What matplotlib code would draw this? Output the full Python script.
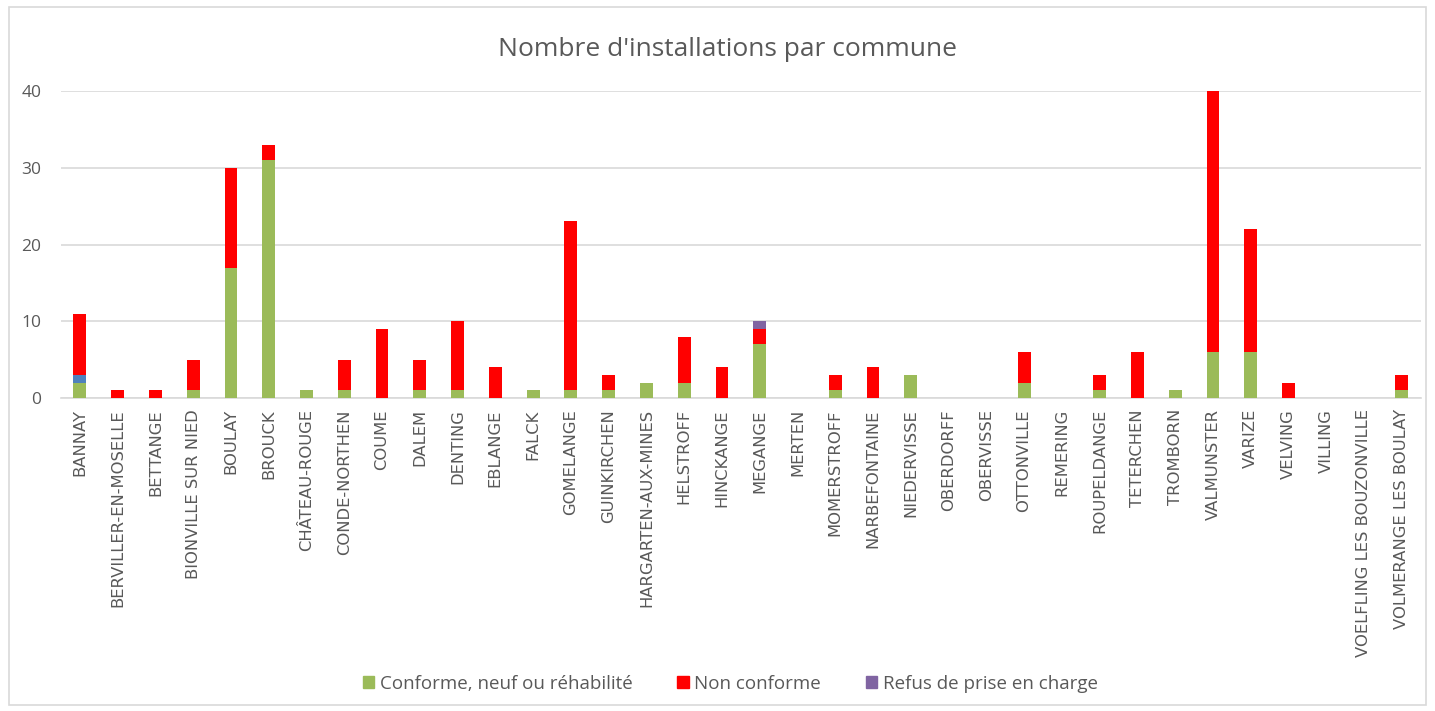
import matplotlib
matplotlib.use("Agg")
import matplotlib.pyplot as plt
import numpy as np
from matplotlib.patches import Rectangle, Patch

communes = ["BANNAY", "BERVILLER-EN-MOSELLE", "BETTANGE", "BIONVILLE SUR NIED", "BOULAY",
            "BROUCK", "CHÂTEAU-ROUGE", "CONDE-NORTHEN", "COUME", "DALEM", "DENTING",
            "EBLANGE", "FALCK", "GOMELANGE", "GUINKIRCHEN", "HARGARTEN-AUX-MINES",
            "HELSTROFF", "HINCKANGE", "MEGANGE", "MERTEN", "MOMERSTROFF", "NARBEFONTAINE",
            "NIEDERVISSE", "OBERDORFF", "OBERVISSE", "OTTONVILLE", "REMERING",
            "ROUPELDANGE", "TETERCHEN", "TROMBORN", "VALMUNSTER", "VARIZE", "VELVING",
            "VILLING", "VOELFLING LES BOUZONVILLE", "VOLMERANGE LES BOULAY"]
conforme = [2, 0, 0, 1, 17, 31, 1, 1, 0, 1, 1, 0, 1, 1, 1, 2, 2, 0, 7, 0, 1, 0, 3, 0, 0,
            2, 0, 1, 0, 1, 6, 6, 0, 0, 0, 1]
autre = [1] + [0] * 35
non_conforme = [8, 1, 1, 4, 13, 2, 0, 4, 9, 4, 9, 4, 0, 22, 2, 0, 6, 4, 2, 0, 2, 4, 0, 0, 0,
                4, 0, 2, 6, 0, 34, 16, 2, 0, 0, 2]
refus = [0] * 18 + [1] + [0] * 17

c_green = "#9BBB59"
c_blue = "#4F81BD"
c_red = "#FF0000"
c_purple = "#8064A2"
txt = "#595959"

plt.rcParams['font.family'] = ['Open Sans', 'DejaVu Sans']

fig = plt.figure(figsize=(14.35, 7.11), dpi=100)
fig.patches.append(Rectangle((0.006, 0.008), 0.988, 0.982, transform=fig.transFigure,
                             fill=False, edgecolor="#D9D9D9", linewidth=1.2))
ax = fig.add_axes([0.0425, 0.4402, 0.9475, 0.4318])

x = np.arange(len(communes))
w = 0.34
g = np.array(conforme)
b = np.array(autre)
r = np.array(non_conforme)
p = np.array(refus)
ax.bar(x, g, w, color=c_green, zorder=3)
ax.bar(x, b, w, bottom=g, color=c_blue, zorder=3)
ax.bar(x, r, w, bottom=g + b, color=c_red, zorder=3)
ax.bar(x, p, w, bottom=g + b + r, color=c_purple, zorder=3)

ax.set_xlim(-0.5, len(communes) - 0.5)
ax.set_ylim(0, 40)
ax.set_yticks([0, 10, 20, 30, 40])
ax.yaxis.grid(True, color="#D9D9D9", linewidth=1.2, zorder=0)
for s in ax.spines.values():
    s.set_visible(False)
ax.spines['bottom'].set_visible(True)
ax.spines['bottom'].set_color("#D9D9D9")
ax.spines['bottom'].set_linewidth(1.2)
ax.tick_params(axis='both', length=0, colors=txt)
ax.tick_params(axis='y', pad=14, labelsize=12.5)
ax.set_xticks(x)
ax.set_xticklabels(communes, rotation=90, fontsize=11.8, color=txt, family='DejaVu Sans')
ax.tick_params(axis='x', pad=8)

fig.text(0.507, 0.930, "Nombre d'installations par commune", ha="center", va="center",
         fontsize=19, color=txt)

handles = [Patch(color=c_green, label="Conforme, neuf ou réhabilité"),
           Patch(color=c_red, label="Non conforme"),
           Patch(color=c_purple, label="Refus de prise en charge")]
fig.legend(handles=handles, loc="center", bbox_to_anchor=(0.509, 0.038), ncol=3,
           frameon=False, fontsize=13.5, handlelength=0.6, handleheight=0.6,
           columnspacing=2.4, handletextpad=0.3, labelcolor=txt)

fig.savefig("out.png", dpi=100)
